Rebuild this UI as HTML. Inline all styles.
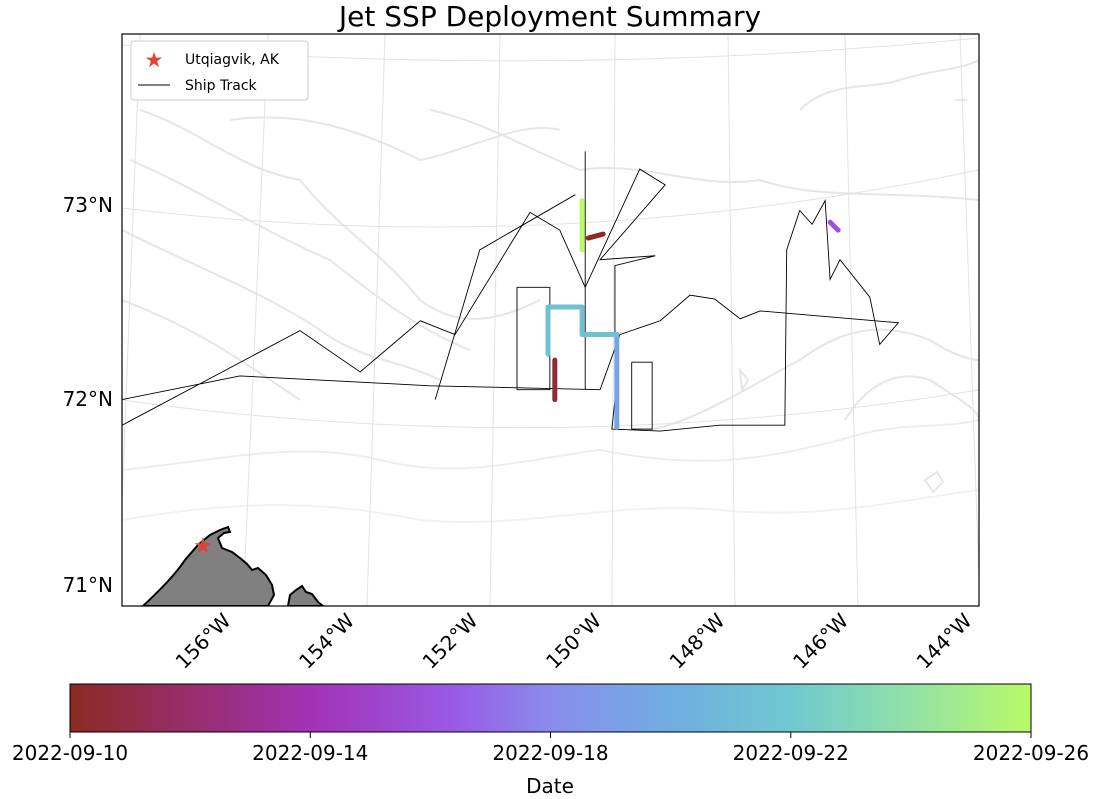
<!DOCTYPE html>
<html><head><meta charset="utf-8"><style>
body{margin:0;background:#fff;width:1102px;height:795px;overflow:hidden;font-family:"DejaVu Sans","Liberation Sans",sans-serif}
svg text{font-family:"DejaVu Sans","Liberation Sans",sans-serif}
</style></head><body>
<svg id="chart" width="1102" height="795" viewBox="0 0 1102 795" xmlns="http://www.w3.org/2000/svg">
<defs>
<linearGradient id="cmap" x1="0" x2="1" y1="0" y2="0">
<stop offset="0" stop-color="#8b2a22"/><stop offset="0.25" stop-color="#a232b5"/><stop offset="0.4" stop-color="#9a5ae6"/><stop offset="0.5" stop-color="#8a8cec"/><stop offset="0.62" stop-color="#70ace2"/><stop offset="0.75" stop-color="#70c8d0"/><stop offset="0.87" stop-color="#90e0a8"/><stop offset="1" stop-color="#b8fa68"/>
</linearGradient>
<clipPath id="clip"><rect x="122" y="34" width="857" height="572"/></clipPath>
</defs>
<text x="550" y="26" font-size="28" text-anchor="middle">Jet SSP Deployment Summary</text>
<g clip-path="url(#clip)">
<g fill="none" stroke="#e6e6e6" stroke-width="2">
<path d="M140,110 C200,130 240,170 300,180 C340,230 380,250 420,300 C460,330 500,320 540,300"/>
<path d="M130,160 C200,190 260,230 330,260 C380,300 420,330 470,350"/>
<path d="M122,230 C180,260 260,290 320,330 C360,360 400,360 440,380"/>
<path d="M122,300 C200,330 240,360 300,400"/>
<path d="M122,470 C220,460 300,440 380,460 C460,480 520,460 600,450 C700,470 760,460 840,440 C900,420 940,430 979,420" stroke="#eeeeee"/>
<path d="M122,520 C240,500 320,500 420,520 C520,530 620,500 720,510 C820,520 900,500 979,490" stroke="#f2f2f2"/>
<path d="M430,110 C480,120 530,150 580,170 C640,160 700,190 760,180 C820,200 880,190 979,200"/>
<path d="M230,120 C300,110 360,130 420,160 C470,150 520,120 560,130"/>
<path d="M650,430 C700,420 760,380 800,360 C840,330 880,320 930,340 C960,360 979,360 979,360"/>
<path d="M800,110 C830,80 870,90 900,80 C930,70 960,70 979,60"/>
<path d="M845,420 C870,380 900,370 930,380 C960,400 979,410 979,420"/>
<path d="M925,480 l12,-8 l6,10 l-10,10 z"/>
<path d="M740,370 l8,10 l-6,10 z"/><path d="M955,100 l12,0"/>
</g>
<g id="grid" fill="none" stroke="#e2e2e2" stroke-width="1">
<path d="M122,208 Q550,260 979,170"/>
<path d="M122,400 Q550,460 979,390"/>
<path d="M122,45 Q550,80 979,38"/>
<path d="M118,606 L140,34"/><path d="M243,606 L268,34"/><path d="M367,606 L385,34"/><path d="M490,606 L500,34"/>
<path d="M612,606 L615,34"/><path d="M735,606 L728,34"/><path d="M858,606 L845,34"/><path d="M980,606 L960,34"/>
</g>
<path d="M143,606 C160,590 175,575 185,560 L198,545 L210,535 L220,530 L228,527 L230,532 L224,533 L218,538 L222,548 L232,552 L240,558 L247,564 L252,570 L258,568 L266,575 L272,585 L274,595 L268,606 Z" fill="#808080" stroke="#000" stroke-width="2"/>
<path d="M288,606 L290,595 L296,590 L302,586 L306,592 L312,594 L318,602 L323,606 Z" fill="#808080" stroke="#000" stroke-width="2"/>
<g id="track" fill="none" stroke="#000" stroke-width="0.9"></g>
<g id="segs"></g>
<text x="203" y="553" font-size="22" fill="#e0432f" text-anchor="middle">★</text>
</g>
<rect x="122" y="34" width="857" height="572" fill="none" stroke="#000" stroke-width="1.2"/>
<g>
<rect x="131" y="41" width="177" height="59" rx="3" fill="#fff" stroke="#ccc"/>
<text x="154" y="67" font-size="21" fill="#e0432f" text-anchor="middle">★</text>
<text x="185" y="64" font-size="14">Utqiagvik, AK</text>
<line x1="138" y1="85" x2="170" y2="85" stroke="#000" stroke-width="1"/>
<text x="185" y="90" font-size="14">Ship Track</text>
</g>
<g font-size="20" text-anchor="end">
<text x="113" y="212">73°N</text><text x="113" y="406">72°N</text><text x="113" y="592">71°N</text>
</g>
<g id="lonlabels" font-size="20"></g>
<rect x="70" y="684" width="961" height="48" fill="url(#cmap)" stroke="#000" stroke-width="1"/>
<g id="cbticks" font-size="20" text-anchor="middle"></g>
<text x="550" y="793" font-size="20" text-anchor="middle">Date</text>
</svg>
<script>
const lonTicks=[-156,-154,-152,-150,-148,-146,-144];
const dateTicks=["2022-09-10","2022-09-14","2022-09-18","2022-09-22","2022-09-26"];
const trackLon1=[-157.87,-155.0,-154.03,-153.06,-152.5,-151.29,-150.81,-150.4,-149.52,-149.11,-150.16,-149.27,-149.92,-149.92,-149.97,-149.19,-148.23,-147.18,-147.15,-146.94,-146.74,-146.53,-146.45,-146.29,-145.81,-145.65,-145.35,-147.58,-147.9,-148.31,-148.71,-149.19,-149.84,-150.16,-152.9,-155.97,-157.87];
const trackLat1=[72.06,72.54,72.33,72.59,72.52,73.14,73.05,72.76,73.36,73.28,72.9,72.92,72.87,72.19,72.04,72.03,72.06,72.06,72.95,73.15,73.08,73.2,72.8,72.9,72.71,72.47,72.58,72.64,72.6,72.7,72.72,72.59,72.52,72.24,72.26,72.31,72.19];
const trackLon2=[-150.4,-150.4];
const trackLat2=[73.45,72.24];
const trackLon3=[-152.82,-152.1,-150.56];
const trackLat3=[72.19,72.95,73.23];
const trackLon4=[-151.5,-150.97,-150.97,-151.5,-151.5];
const trackLat4=[72.76,72.76,72.24,72.24,72.76];
const trackLon5=[-149.65,-149.32,-149.32,-149.65,-149.65];
const trackLat5=[72.38,72.38,72.04,72.04,72.38];
const segDays=[0.5,0.2,6,9.5,11.5,16];
const segLons=[[-150.89,-150.89],[-150.35,-150.11],[-146.45,-146.32],[-149.89,-149.89],[-151.0,-151.0,-150.45,-150.45,-149.89],[-150.45,-150.45]];
const segLats=[[72.39,72.19],[73.01,73.03],[73.09,73.05],[72.52,72.05],[72.42,72.66,72.66,72.52,72.52],[73.2,72.95]];
const NS='http://www.w3.org/2000/svg';
function xs(lon){return 610+(lon+150)*62;}
function ys(lat){return 437-(lat-72)*197;}
const stops=[[0,[139,42,34]],[0.25,[162,50,181]],[0.4,[154,90,230]],[0.5,[138,140,236]],[0.62,[112,172,226]],[0.75,[112,200,208]],[0.87,[144,224,168]],[1,[184,250,104]]];
function cmap(d){const t=Math.max(0,Math.min(1,d/16));for(let i=1;i<stops.length;i++){if(t<=stops[i][0]){const a=stops[i-1],b=stops[i],f=(t-a[0])/(b[0]-a[0]);return 'rgb('+a[1].map((v,k)=>Math.round(v+(b[1][k]-v)*f)).join(',')+')';}}return 'rgb(184,250,104)';}
const tg=document.getElementById('track');
[[trackLon1,trackLat1],[trackLon2,trackLat2],[trackLon3,trackLat3],[trackLon4,trackLat4],[trackLon5,trackLat5]].forEach(p=>{
const el=document.createElementNS(NS,'polyline');


el.setAttribute('points',p[0].map((v,i)=>xs(v)+','+ys(p[1][i])).join(' '));
tg.appendChild(el);});
const sg=document.getElementById('segs');
segDays.forEach((d,i)=>{
const el=document.createElementNS(NS,'polyline');


el.setAttribute('points',segLons[i].map((v,j)=>xs(v)+','+ys(segLats[i][j])).join(' '));
el.setAttribute('fill','none');el.setAttribute('stroke',cmap(d));el.setAttribute('stroke-width','5');el.setAttribute('stroke-linejoin','round');el.setAttribute('stroke-linecap','round');
sg.appendChild(el);});
const lg=document.getElementById('lonlabels');
lonTicks.forEach(l=>{
const x=243+(l+156)/2*123.5;
const t=document.createElementNS(NS,'text');


t.setAttribute('transform','translate('+(x-11)+',622) rotate(-45)');
t.setAttribute('text-anchor','end');
t.textContent=Math.abs(l)+'°W';lg.appendChild(t);});
const cg=document.getElementById('cbticks');
dateTicks.forEach((d,i)=>{
const x=70+i*961/4;
const ln=document.createElementNS(NS,'line');


ln.setAttribute('x1',x);ln.setAttribute('x2',x);ln.setAttribute('y1',732);ln.setAttribute('y2',738);ln.setAttribute('stroke','#000');cg.appendChild(ln);
const t=document.createElementNS(NS,'text');


t.setAttribute('x',x);t.setAttribute('y',760);t.textContent=d;cg.appendChild(t);});
</script>
</body></html>
